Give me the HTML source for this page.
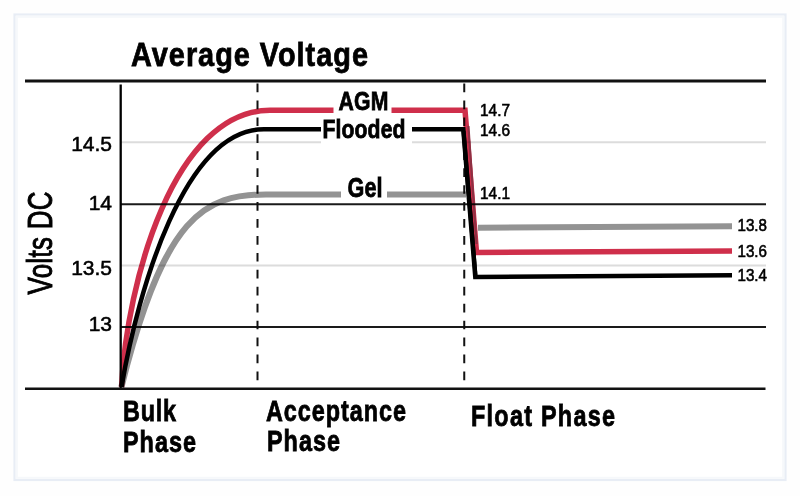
<!DOCTYPE html>
<html><head><meta charset="utf-8">
<style>
html,body{margin:0;padding:0;width:800px;height:496px;overflow:hidden;background:#fefefe;}
svg{display:block;filter:blur(0.6px);}
text{font-family:"Liberation Sans",sans-serif;}
.b{font-weight:bold;stroke:#000;stroke-width:0.8px;}
</style></head>
<body>
<svg width="800" height="496" viewBox="0 0 800 496">
<rect x="0" y="0" width="800" height="496" fill="#fefefe"/>
<rect x="14.5" y="14.5" width="771" height="465.5" fill="#ffffff" stroke="#e8edf5" stroke-width="2.2"/>
<rect x="16.8" y="16.8" width="766.4" height="461" fill="none" stroke="#f6f8fb" stroke-width="2"/>

<!-- gridlines -->
<line x1="121" y1="142.25" x2="766" y2="142.25" stroke="#dcdcdc" stroke-width="2"/>
<line x1="121" y1="204.2" x2="766" y2="204.2" stroke="#1a1a1a" stroke-width="2"/>
<line x1="121" y1="265.5" x2="766" y2="265.5" stroke="#dcdcdc" stroke-width="2"/>
<line x1="121" y1="327" x2="766" y2="327" stroke="#1a1a1a" stroke-width="2"/>

<!-- dashed phase lines -->
<line x1="257.5" y1="83.5" x2="257.5" y2="381" stroke="#111" stroke-width="2" stroke-dasharray="8.7 8.24"/>
<line x1="464.25" y1="83.5" x2="464.25" y2="381" stroke="#111" stroke-width="2" stroke-dasharray="8.7 8.24"/>

<!-- axes -->
<line x1="25" y1="81.1" x2="766" y2="81.1" stroke="#111" stroke-width="3"/>
<line x1="25" y1="388.8" x2="765.5" y2="388.8" stroke="#111" stroke-width="2.6"/>
<line x1="120.7" y1="84.5" x2="120.7" y2="388" stroke="#000" stroke-width="2.3"/>

<!-- curves -->
<g style="mix-blend-mode:multiply">
<path d="M121.5 387 C164 215 205 194.4 266 194.4 L466 194.4" fill="none" stroke="#939393" stroke-width="6"/>
<path d="M121.5 387 C138.2 289.7 184.1 129.2 264 129.2 L463.3 129.2 L475.3 277 L732 275.2" fill="none" stroke="#000" stroke-width="4.5" style="mix-blend-mode:multiply"/>
<path d="M121.5 387 C126.9 280.7 174.1 110.3 270 110.3 L465 110.3 L476.5 252.5 L732 251" fill="none" stroke="#cf2f4b" stroke-width="5.5" style="mix-blend-mode:multiply"/>
<line x1="478" y1="227.8" x2="732" y2="226.2" stroke="#939393" stroke-width="6"/>
<line x1="463.5" y1="131" x2="475.5" y2="275" stroke="#000" stroke-width="4"/>
<line x1="468.4" y1="126" x2="476.6" y2="244" stroke="#8e3043" stroke-width="2.2"/>
</g>

<!-- label boxes -->
<rect x="333.5" y="92" width="58" height="26" fill="#fff"/>
<rect x="321" y="119" width="91" height="26" fill="#fff"/>
<rect x="341" y="176" width="46" height="25" fill="#fff"/>

<!-- y labels -->
<g font-size="21" text-anchor="end" stroke="#000" stroke-width="0.55">
<text id="y145" x="112" y="151.3">14.5</text>
<text id="y14" x="112" y="210.3">14</text>
<text id="y135" x="112" y="275">13.5</text>
<text id="y13" x="112" y="331">13</text>
</g>
<text id="volts" x="0" y="0" font-size="36" stroke="#000" stroke-width="1" transform="translate(52.4,294.5) rotate(-90) scale(0.72,1)" textLength="143" lengthAdjust="spacing">Volts DC</text>

<!-- right values -->
<g font-size="16.5" stroke="#000" stroke-width="0.6">
<text id="r147" textLength="30" lengthAdjust="spacingAndGlyphs" x="480" y="116">14.7</text>
<text id="r146" textLength="30" lengthAdjust="spacingAndGlyphs" x="480" y="136">14.6</text>
<text id="r141" textLength="30" lengthAdjust="spacingAndGlyphs" x="480" y="199.2">14.1</text>
<text id="r138" textLength="29.5" lengthAdjust="spacingAndGlyphs" x="737.5" y="231">13.8</text>
<text id="r136" textLength="29.5" lengthAdjust="spacingAndGlyphs" x="737.5" y="256.8">13.6</text>
<text id="r134" textLength="29.5" lengthAdjust="spacingAndGlyphs" x="737.5" y="281">13.4</text>
</g>

<!-- bold labels -->
<text id="title" class="b" x="0" y="0" font-size="34" textLength="278.82" lengthAdjust="spacing" transform="translate(131,66.3) scale(0.85,1)">Average Voltage</text>
<text id="agm" class="b" x="0" y="0" font-size="26.5" textLength="62.50" lengthAdjust="spacing" transform="translate(338.5,109.8) scale(0.8,1)">AGM</text>
<text id="flooded" class="b" x="0" y="0" font-size="26.5" textLength="103.75" lengthAdjust="spacing" transform="translate(322.5,137.8) scale(0.8,1)">Flooded</text>
<text id="gel" class="b" x="0" y="0" font-size="27" textLength="43.75" lengthAdjust="spacing" transform="translate(347.5,196.5) scale(0.8,1)">Gel</text>
<text id="bulk" class="b" x="0" y="0" font-size="30" textLength="67.95" lengthAdjust="spacing" transform="translate(123,421) scale(0.78,1)">Bulk</text>
<text id="phase1" class="b" x="0" y="0" font-size="30" textLength="93.59" lengthAdjust="spacing" transform="translate(123,452) scale(0.78,1)">Phase</text>
<text id="accept" class="b" x="0" y="0" font-size="30" textLength="179.49" lengthAdjust="spacing" transform="translate(266,421) scale(0.78,1)">Acceptance</text>
<text id="phase2" class="b" x="0" y="0" font-size="30" textLength="93.59" lengthAdjust="spacing" transform="translate(267,451) scale(0.78,1)">Phase</text>
<text id="float" class="b" x="0" y="0" font-size="30" textLength="184.62" lengthAdjust="spacing" transform="translate(471,426) scale(0.78,1)">Float Phase</text>
</svg>
</body></html>
